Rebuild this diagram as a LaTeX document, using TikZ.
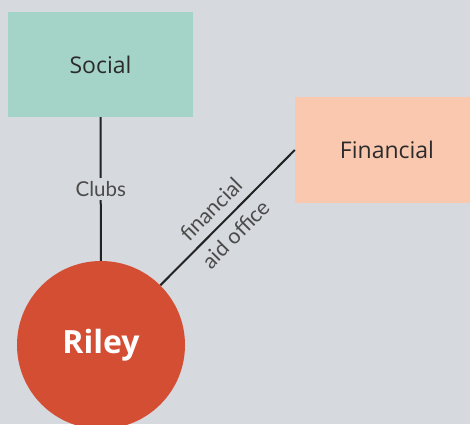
\documentclass[tikz,border=0pt]{standalone}
\usepackage{fontspec}
\setmainfont{Open Sans}
\newfontfamily\handfont{Lato}
\definecolor{bgc}{HTML}{D6D9DE}
\definecolor{socialc}{HTML}{A4D3C8}
\definecolor{finc}{HTML}{F9C8AF}
\definecolor{rileyc}{HTML}{D44E34}
\definecolor{linec}{HTML}{222222}
\definecolor{txtc}{HTML}{2B2B2B}
\begin{document}
\begin{tikzpicture}[x=1pt,y=1pt,
  boxst/.style={rectangle,inner sep=0pt,text=txtc,font=\fontsize{23}{27}\selectfont},
  conn/.style={draw=linec,line width=2pt},
  handlbl/.style={font=\handfont\fontsize{20.5}{24}\selectfont,text=txtc!85}]
\fill[bgc] (0,0) rectangle (470,424);
\useasboundingbox (0,0) rectangle (470,424);
\node[boxst,fill=socialc,minimum width=185pt,minimum height=105pt] (social) at (100.5,359.5) {Social};
\node[boxst,fill=finc,minimum width=184pt,minimum height=106pt] (fin) at (387,274) {Financial};
\node[circle,fill=rileyc,minimum size=168pt,inner sep=0pt,text=white,font=\bfseries\fontsize{32}{36}\selectfont] (riley) at (101,79) {Riley};
\draw[conn] (social) -- node[handlbl,fill=bgc,inner sep=3pt] {Clubs} (riley);
\draw[conn] (riley) -- node[handlbl,pos=0.47,sloped,align=center,inner sep=0pt,font=\handfont\fontsize{21.5}{35}\selectfont] {financial\\aid office} (fin.west);
\end{tikzpicture}
\end{document}
